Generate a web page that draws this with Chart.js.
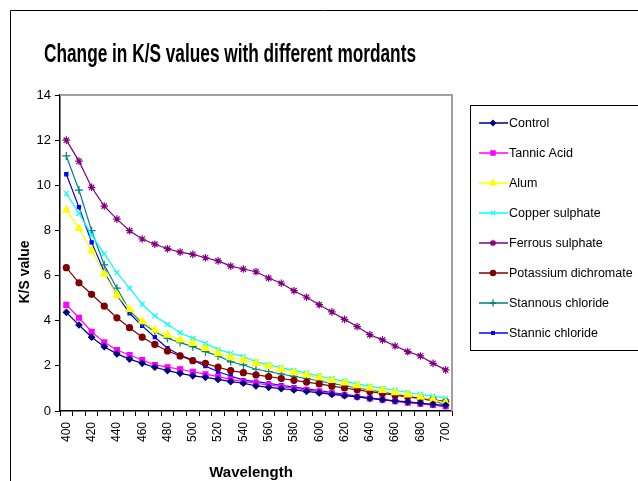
<!DOCTYPE html>
<html>
<head>
<meta charset="utf-8">
<script src="https://cdn.jsdelivr.net/npm/chart.js@4.4.0/dist/chart.umd.min.js"></script>
<style>
  html, body { margin: 0; padding: 0; background: #fff; overflow: hidden; }
</style>
</head>
<body>
<canvas id="ks_chart" width="638" height="481"></canvas>
<script>
const wavelengths = [400, 410, 420, 430, 440, 450, 460, 470, 480, 490, 500, 510, 520, 530, 540, 550,
  560, 570, 580, 590, 600, 610, 620, 630, 640, 650, 660, 670, 680, 690, 700];

const control = [4.37, 3.81, 3.27, 2.85, 2.53, 2.30, 2.11, 1.94, 1.79, 1.67, 1.56, 1.49, 1.40, 1.30, 1.23, 1.11,
  1.05, 0.99, 0.93, 0.87, 0.80, 0.74, 0.68, 0.62, 0.56, 0.50, 0.45, 0.40, 0.35, 0.30, 0.25];
const tannicAcid = [4.70, 4.13, 3.51, 3.04, 2.70, 2.48, 2.26, 2.04, 1.94, 1.85, 1.74, 1.63, 1.52, 1.40, 1.30, 1.23,
  1.15, 1.08, 1.00, 0.93, 0.86, 0.78, 0.70, 0.63, 0.56, 0.50, 0.43, 0.37, 0.32, 0.27, 0.20];
const alum = [8.90, 8.09, 7.10, 6.07, 5.14, 4.51, 3.96, 3.59, 3.37, 3.15, 3.00, 2.78, 2.56, 2.38, 2.26, 2.11,
  1.98, 1.85, 1.72, 1.60, 1.48, 1.36, 1.25, 1.13, 1.02, 0.92, 0.82, 0.72, 0.62, 0.50, 0.36];
const copperSulphate = [9.64, 8.76, 7.80, 6.96, 6.13, 5.44, 4.73, 4.21, 3.84, 3.47, 3.22, 3.00, 2.73, 2.56, 2.41, 2.18,
  2.05, 1.92, 1.80, 1.68, 1.55, 1.43, 1.32, 1.20, 1.10, 1.00, 0.92, 0.82, 0.74, 0.66, 0.56];
const ferrousSulphate = [12.0, 11.07, 9.91, 9.08, 8.50, 7.99, 7.62, 7.39, 7.19, 7.04, 6.94, 6.79, 6.65, 6.42, 6.29, 6.17,
  5.89, 5.66, 5.33, 5.04, 4.71, 4.39, 4.06, 3.74, 3.38, 3.15, 2.88, 2.63, 2.44, 2.11, 1.82];
const potassiumDichromate = [6.35, 5.68, 5.17, 4.65, 4.13, 3.69, 3.27, 2.95, 2.66, 2.44, 2.23, 2.11, 1.94, 1.79, 1.70, 1.60,
  1.52, 1.44, 1.36, 1.28, 1.20, 1.10, 1.02, 0.94, 0.86, 0.78, 0.70, 0.63, 0.56, 0.50, 0.42];
const stannousChloride = [11.3, 9.79, 7.99, 6.47, 5.44, 4.44, 3.91, 3.51, 3.22, 3.03, 2.85, 2.63, 2.44, 2.18, 2.04, 1.85,
  1.75, 1.64, 1.53, 1.44, 1.33, 1.22, 1.12, 1.02, 0.93, 0.84, 0.74, 0.65, 0.56, 0.44, 0.30];
const stannicChloride = [10.49, 9.03, 7.47, 6.17, 5.14, 4.33, 3.77, 3.27, 2.78, 2.48, 2.26, 1.99, 1.74, 1.55, 1.37, 1.30,
  1.22, 1.14, 1.06, 0.98, 0.90, 0.82, 0.74, 0.66, 0.58, 0.50, 0.44, 0.38, 0.32, 0.26, 0.20];

const yTicks = [0, 2, 4, 6, 8, 10, 12, 14];

const FONT = '"Liberation Sans", Arial, sans-serif';

const series = [
  { label: "Control", data: control, color: "#000080", style: "rectRot", r: 3 },
  { label: "Tannic Acid", data: tannicAcid, color: "#ff00ff", style: "rect", r: 3.5 },
  { label: "Alum", data: alum, color: "#ffff00", style: "triangle", r: 4.2 },
  { label: "Copper sulphate", data: copperSulphate, color: "#00ffff", style: "crossRot", r: 3.5 },
  { label: "Ferrous sulphate", data: ferrousSulphate, color: "#800080", style: "star", r: 3.8 },
  { label: "Potassium dichromate", data: potassiumDichromate, color: "#800000", style: "circle", r: 3 },
  { label: "Stannous chloride", data: stannousChloride, color: "#008080", style: "cross", r: 4 },
  { label: "Stannic chloride", data: stannicChloride, color: "#0000ff", style: "rect", r: 2.2 },
];

// frame, titles and legend box drawn straight on the canvas
const decorations = {
  id: "decorations",
  afterDraw(chart) {
    const { ctx, chartArea: a } = chart;
    ctx.save();
    // outer chart border
    ctx.strokeStyle = "#000";
    ctx.lineWidth = 1;
    ctx.beginPath();
    ctx.moveTo(10.5, 481);
    ctx.lineTo(10.5, 10.5);
    ctx.lineTo(638, 10.5);
    ctx.stroke();
    // plot area top / right edge
    ctx.strokeStyle = "#a0a0a0";
    ctx.lineWidth = 2;
    ctx.beginPath();
    ctx.moveTo(a.left, a.top);
    ctx.lineTo(a.right, a.top);
    ctx.lineTo(a.right, a.bottom);
    ctx.stroke();

    // title
    ctx.fillStyle = "#000";
    ctx.font = "bold 25px " + FONT;
    ctx.textBaseline = "alphabetic";
    const title = "Change in K/S values with different mordants";
    const w = ctx.measureText(title).width;
    ctx.save();
    ctx.translate(44, 62);
    ctx.scale(372 / w, 1);
    ctx.fillText(title, 0, 0);
    ctx.restore();

    // axis titles
    ctx.font = "bold 15px " + FONT;
    ctx.textAlign = "center";
    ctx.fillText("Wavelength", (a.left + a.right) / 2 - 5, 477);
    ctx.save();
    ctx.translate(29, 272);
    ctx.rotate(-Math.PI / 2);
    ctx.font = "bold 14px " + FONT;
    ctx.fillText("K/S value", 0, 0);
    ctx.restore();

    // legend
    ctx.strokeStyle = "#000";
    ctx.lineWidth = 1;
    ctx.strokeRect(470.5, 105.5, 200, 245);
    ctx.font = "12.5px " + FONT;
    ctx.textAlign = "left";
    ctx.textBaseline = "middle";
    series.forEach((s, i) => {
      const y = 123 + i * 30;
      ctx.strokeStyle = s.color;
      ctx.lineWidth = 1.5;
      ctx.beginPath();
      ctx.moveTo(479, y);
      ctx.lineTo(508, y);
      ctx.stroke();
      ctx.fillStyle = s.color;
      ctx.lineWidth = 1.3;
      Chart.helpers.drawPoint(ctx, { pointStyle: s.style, radius: s.r * 0.85, rotation: 0, borderWidth: 1.3 }, 493, y);
      ctx.fillStyle = "#000";
      ctx.fillText(s.label, 509, y + 1);
    });
    ctx.restore();
  },
};

new Chart(document.getElementById("ks_chart"), {
  type: "line",
  data: {
    labels: wavelengths,
    datasets: series.map((s) => ({
      label: s.label,
      data: s.data,
      borderColor: s.color,
      backgroundColor: s.color,
      borderWidth: 1.2,
      pointStyle: s.style,
      pointRadius: s.r,
      pointBorderWidth: 1.2,
      tension: 0,
      fill: false,
    })),
  },
  options: {
    responsive: false,
    animation: false,
    layout: { padding: { left: 10, top: 95, right: 186, bottom: 0 } },
    plugins: {
      legend: { display: false },
      title: { display: false },
      tooltip: { enabled: false },
    },
    scales: {
      x: {
        type: "category",
        offset: true,
        afterFit: (scale) => { scale.height = 70; },
        border: { color: "#000", width: 1.5 },
        grid: { offset: true, drawOnChartArea: false, drawTicks: true, tickLength: 5, color: "#000" },
        ticks: {
          autoSkip: false,
          minRotation: 90,
          maxRotation: 90,
          padding: 6,
          color: "#000",
          font: { family: FONT, size: 12 },
          callback: (val, idx) => (idx % 2 === 0 ? wavelengths[idx] : ""),
        },
      },
      y: {
        min: 0,
        max: 14,
        afterFit: (scale) => { scale.width = 50; },
        afterBuildTicks: (scale) => { scale.ticks = yTicks.map((v) => ({ value: v })); },
        border: { color: "#000", width: 1.5 },
        grid: { drawOnChartArea: false, drawTicks: true, tickLength: 5, color: "#000" },
        ticks: {
          padding: 4,
          color: "#000",
          font: { family: FONT, size: 13 },
        },
      },
    },
  },
  plugins: [decorations],
});
</script>
</body>
</html>
